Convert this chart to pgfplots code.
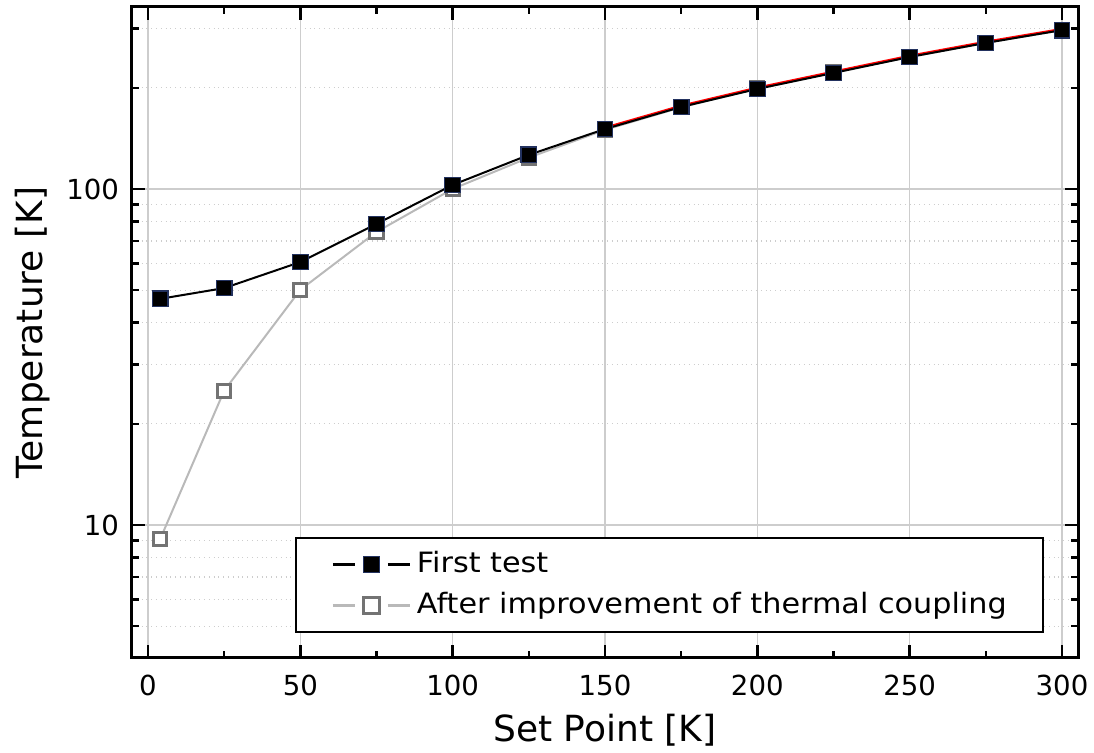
\documentclass[border=0pt]{standalone}
\usepackage{fontspec}
\setmainfont{DejaVu Sans}
\usepackage{pgfplots}
\pgfplotsset{compat=1.18}
\definecolor{edgenavy}{RGB}{35,50,95}
\definecolor{ptgray}{RGB}{115,115,115}
\definecolor{lngray}{RGB}{185,185,185}
\definecolor{gridgray}{RGB}{205,205,205}
\newcommand{\legtext}[1]{\makebox[293pt][l]{\scalebox{1.08}[1]{#1}}}
\begin{document}
\begin{tikzpicture}
\useasboundingbox (-66pt,-47.5pt) rectangle (481pt,329pt);
\begin{axis}[
scale only axis,
width=473pt, height=325.5pt,
ymode=log,
xmin=-5.25, xmax=305.25,
ymin=4.02, ymax=348,
xtick={0,50,...,300},
minor xtick={25,75,...,275},
ytick={10,100},
yticklabels={10,100},
minor ytick={5,6,7,8,9,20,30,40,50,60,70,80,90,200,300},
/pgf/number format/assume math mode=true,
tick align=inside,
major tick length=6.5pt,
minor tick length=3.5pt,
every tick/.style={black, line width=1.2pt},
axis line style={line width=1.5pt},
xmajorgrids, ymajorgrids, yminorgrids,
major grid style={gridgray, line width=0.7pt},
minor grid style={gridgray, dotted, line width=0.6pt},
tick label style={font=\fontsize{13.8pt}{16pt}\selectfont},
xticklabel style={anchor=center, yshift=-13.5pt},
yticklabel style={anchor=east, xshift=-3pt},
label style={font=\fontsize{18pt}{22pt}\selectfont},
xlabel={Set Point [K]},
ylabel={Temperature [K]},
xlabel style={at={(axis description cs:0.5,-0.1106)}, anchor=center},
ylabel style={at={(axis description cs:-0.1047,0.5)}, anchor=center},
legend cell align=left,
reverse legend,
legend style={
  at={(axis description cs:0.1723,0.0384)}, anchor=south west,
  draw=black, line width=0.8pt,
  inner xsep=18pt, inner ysep=4.5pt,
  row sep=3pt,
  font=\fontsize{14pt}{16pt}\selectfont,
  nodes={inner sep=2pt, text height=10.5pt, text depth=3pt},
},
legend image code/.code={
  \draw[#1, mark=none, line width=1.2pt] (0pt,0pt) -- (11pt,0pt) (27.5pt,0pt) -- (38.5pt,0pt);
  \draw[#1, only marks, mark size=4.1pt] plot coordinates {(19.25pt,0pt)};
  \path (39.5pt,0pt);
},
]
% after improvement of thermal coupling
\addplot[lngray, line width=1pt, mark=square*, mark size=3.3pt,
  mark options={draw=ptgray, fill=white, line width=1.5pt}]
coordinates {
(4,9.08) (25,25.1) (50,50.1) (75,74.5) (100,100) (125,124) (150,150)
(175,175) (200,199) (225,222) (250,247) (275,272) (300,297)
};
\addlegendentry{\legtext{After improvement of thermal coupling}}
% red trace under first test
\addplot[red, line width=1pt, forget plot]
coordinates {
(150,152.3) (175,177.0) (200,200.3) (225,223.5) (250,249.2) (275,274.4) (300,299.5)
};
% first test
\addplot[black, line width=1pt, mark=square*, mark size=3.9pt,
  mark options={draw=edgenavy, fill=black, line width=0.6pt}]
coordinates {
(4,47.1) (25,50.7) (50,60.6) (75,78.7) (100,102.8) (125,126.3) (150,150.8)
(175,175.4) (200,198.5) (225,221.4) (250,247) (275,272) (300,297)
};
\addlegendentry{\legtext{First test}}
\end{axis}
\end{tikzpicture}
\end{document}
